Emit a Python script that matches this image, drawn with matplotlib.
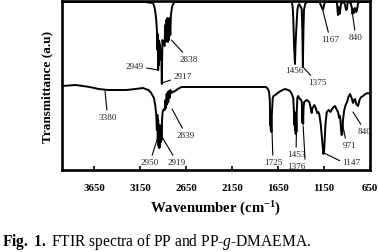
import matplotlib
matplotlib.use("Agg")
import matplotlib.pyplot as plt

plt.rcParams['font.family'] = ['Liberation Serif', 'DejaVu Serif']
plt.rcParams['mathtext.fontset'] = 'custom'
plt.rcParams['mathtext.rm'] = 'Liberation Serif'
plt.rcParams['mathtext.it'] = 'Liberation Serif:italic'
plt.rcParams['mathtext.bf'] = 'Liberation Serif:bold'

# PP spectrum (upper trace), wavenumber (cm-1) vs transmittance (a.u.)
wn_pp = [4000, 3600, 3100, 3010, 2995, 2985, 2975, 2968, 2962, 2958, 2954, 2950,
         2946, 2942, 2938, 2934, 2928, 2920, 2914, 2908, 2900, 2892, 2884, 2878,
         2872, 2866, 2860, 2854, 2848, 2842, 2836, 2830, 2822, 2815, 2808, 2800,
         2790, 2775, 2200, 1500, 1490, 1484, 1476, 1466, 1460, 1452, 1446, 1440,
         1432, 1420, 1393, 1386, 1380, 1374, 1368, 1355, 1335, 1200, 1185, 1172,
         1161, 1150, 1139, 1010, 1003, 998, 990, 982, 976, 966, 955, 930, 922,
         910, 900, 895, 889, 860, 850, 846, 840, 835, 825, 813, 800, 791, 780,
         760, 650]
t_pp = [168, 168, 168, 167, 163, 158, 150, 140, 120, 136, 100, 130,
        105, 128, 110, 125, 115, 118, 86, 130, 128, 126, 124, 145,
        128, 150, 130, 152, 128, 150, 130, 152, 135, 155, 160, 164,
        166, 168, 168, 168, 162, 150, 125, 106, 125, 140, 150, 160,
        164, 166, 161, 140, 103, 140, 160, 166, 168, 168, 165, 162,
        160, 165, 168, 168, 160, 155, 163, 156, 158, 166, 168, 167, 165,
        160, 161, 167, 168, 167, 163, 162, 156, 161, 157, 162, 158, 160, 167,
        168, 168]

# PP-g-DMAEMA spectrum (lower trace)
wn_graft = [4000, 3850, 3700, 3600, 3500, 3400, 3300, 3200, 3120, 3060, 3030,
            3000, 2985, 2975, 2968, 2962, 2958, 2954, 2950, 2946, 2942, 2938,
            2934, 2930, 2926, 2922, 2918, 2912, 2905, 2898, 2890, 2882, 2875,
            2868, 2862, 2856, 2850, 2844, 2838, 2830, 2822, 2810, 2795, 2770,
            2740, 2700, 2640, 1780, 1760, 1748, 1740, 1738, 1735, 1732, 1729,
            1726, 1722, 1718, 1714, 1708, 1700, 1680, 1640, 1600, 1575, 1540,
            1520, 1500, 1485, 1478, 1473, 1470, 1466, 1462, 1458, 1454, 1450,
            1446, 1440, 1432, 1420, 1400, 1392, 1388, 1384, 1380, 1377, 1373,
            1366, 1340, 1310, 1295, 1285, 1275, 1255, 1240, 1225, 1212, 1200,
            1185, 1170, 1157, 1148, 1135, 1120, 1100, 1080, 1063, 1045, 1030,
            1010, 998, 985, 976, 968, 960, 952, 944, 930, 915, 900, 885, 867,
            850, 835, 825, 813, 800, 780, 770, 759, 745, 726, 700, 672, 650]
t_graft = [84, 85, 83, 81, 80, 80, 80, 81, 82, 80, 77,
           72, 64, 55, 40, 55, 30, 50, 24, 45, 22, 40,
           23, 38, 28, 45, 30, 50, 58, 60, 61, 60, 70,
           62, 76, 66, 78, 68, 79, 72, 80, 77, 78, 79,
           81, 83, 83, 83, 81, 78, 70, 60, 45, 55, 40,
           52, 38, 55, 62, 72, 74, 75, 78, 80, 81, 80,
           79, 76, 72, 60, 45, 58, 40, 55, 36, 52, 38,
           60, 72, 74, 72, 70, 68, 55, 47, 58, 46, 62,
           68, 70, 68, 62, 57, 62, 65, 62, 57, 58, 55,
           45, 30, 16, 20, 45, 58, 60, 58, 61, 63, 64,
           60, 58, 52, 54, 45, 35, 36, 50, 60, 65, 68, 73, 76,
           72, 67, 70, 71, 66, 64, 68, 71, 73, 74, 76, 77, 76]

xticks = [3650, 3150, 2650, 2150, 1650, 1150, 650]

fig = plt.figure(figsize=(3.78, 2.53), dpi=100)
ax = fig.add_axes([62 / 378, 1 - 171 / 253, 308 / 378, 169 / 253])

ax.plot(wn_pp, t_pp, color='black', lw=1.4)
ax.plot(wn_graft, t_graft, color='black', lw=1.4)

ax.set_xlim(4000, 650)
ax.set_ylim(0, 169)
ax.set_xticks(xticks)
ax.set_xticklabels([str(v) for v in xticks], fontweight='bold', fontsize=7.8)
ax.set_yticks([])
ax.tick_params(axis='x', direction='in', length=3, width=1.2, pad=9.5)
for s in ax.spines.values():
    s.set_linewidth(1.9)

ax.set_xlabel(r'Wavenumber (cm$^{\mathbf{-1}}$)', fontweight='bold', fontsize=10.6, labelpad=5)
ax.set_ylabel('Transmittance (a.u)', fontweight='bold', fontsize=9.5, labelpad=6)

# peak labels
lab = dict(fontsize=6.6, color='#222222')
arr = dict(arrowstyle='-', lw=0.8, color='black', shrinkA=0, shrinkB=0)

ax.annotate('2949', xy=(2956, 100), xytext=(3110, 104), ha='right', va='center', arrowprops=arr, **lab)
ax.annotate('2917', xy=(2914, 87), xytext=(2790, 94), ha='left', va='center', arrowprops=arr, **lab)
ax.annotate('2838', xy=(2810, 130), xytext=(2720, 111), ha='left', va='center', arrowprops=arr, **lab)
ax.text(1477, 100, '1456', ha='center', va='center', **lab)
ax.annotate('1375', xy=(1380, 103), xytext=(1226, 88), ha='center', va='center', arrowprops=arr, **lab)
ax.annotate('1167', xy=(1161, 159), xytext=(1085, 131), ha='center', va='center', arrowprops=arr, **lab)
ax.annotate('840', xy=(839, 155), xytext=(805, 133), ha='center', va='center', arrowprops=arr, **lab)

ax.annotate('3380', xy=(3532, 79), xytext=(3505, 53), ha='center', va='center', arrowprops=arr, **lab)
ax.annotate('2950', xy=(2956, 33), xytext=(3043, 8), ha='center', va='center', arrowprops=arr, **lab)
ax.annotate('2919', xy=(2912, 33), xytext=(2749, 8), ha='center', va='center', arrowprops=arr, **lab)
ax.annotate('2839', xy=(2803, 61), xytext=(2651, 35), ha='center', va='center', arrowprops=arr, **lab)
ax.annotate('1725', xy=(1716, 39), xytext=(1705, 8), ha='center', va='center', arrowprops=arr, **lab)
ax.annotate('1453', xy=(1450, 38), xytext=(1455, 16), ha='center', va='center', arrowprops=arr, **lab)
ax.annotate('1376', xy=(1377, 44), xytext=(1455, 4), ha='center', va='center',
            arrowprops=dict(arr, relpos=(1, 1)), **lab)
ax.annotate('1147', xy=(1150, 17), xytext=(950, 8), ha='left', va='center',
            arrowprops=dict(arr, relpos=(0, 0.5)), **lab)
ax.annotate('971', xy=(955, 49), xytext=(867, 25), ha='center', va='center',
            arrowprops=dict(arr, relpos=(0.2, 1)), **lab)
ax.annotate('840', xy=(835, 58), xytext=(704, 39), ha='center', va='center', arrowprops=arr, **lab)

fig.text(0.005, 7 / 253, r'$\mathbf{Fig.\ 1.}$ FTIR spectra of PP and PP-$\mathit{g}$-DMAEMA.',
         fontsize=11.2, ha='left', va='baseline')

fig.savefig('out.png', dpi=100)
